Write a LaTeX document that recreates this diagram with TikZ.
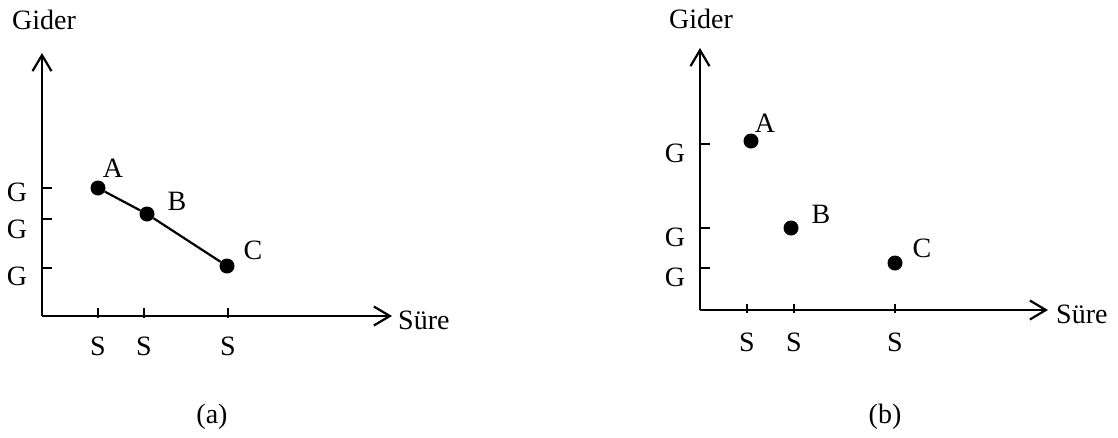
\documentclass[tikz,border=0pt]{standalone}
\usepackage{fontspec}
\setmainfont{Liberation Serif}
\usetikzlibrary{positioning,arrows.meta}

\begin{document}
\begin{tikzpicture}[x=1pt,y=1pt]
			\tikzstyle{every node}+=[inner sep=0pt,font=\fontsize{28}{32}\selectfont]
			\tikzstyle{axis}=[black,line width=2.2pt,-{Straight Barb[length=16pt,width=19pt,line width=2.2pt]}]
			\tikzstyle{tick}=[black,line width=2.2pt]
			\tikzstyle{dot}=[circle,fill=black,minimum size=15pt]
			\useasboundingbox (0,0) rectangle (1118,-437);
			% (a)
			\coordinate (oa) at (42,-316);
			\coordinate (ya) at (42,-53);
			\coordinate (xa) at (392,-316);
			\draw [axis] (oa) -- (ya);
			\draw [axis] (oa) -- (xa);
			\node [anchor=base west] (gidera) at (12,-29) {Gider};
			\node [anchor=base west] (surea) at (398,-329) {Süre};
			\foreach \y/\b/\n in {188/201/1,219/238/2,268/285/3} {
				\draw [tick] (42,-\y) -- (52,-\y);
				\node [anchor=base] (ga\n) at (17,-\b) {G};
			}
			\foreach \x/\n in {98/1,144/2,228/3} {
				\draw [tick] (\x,-308) -- (\x,-318);
				\node [anchor=base] (sa\n) at (\x,-355) {S};
			}
			\node [dot] (pa1) at (98,-188) {};
			\node [dot] (pa2) at (147,-214) {};
			\node [dot] (pa3) at (227,-266) {};
			\draw [black,line width=2.2pt] (pa1) -- (pa2) -- (pa3);
			\node [anchor=base] (la1) at (113,-177) {A};
			\node [anchor=base] (la2) at (177,-210) {B};
			\node [anchor=base] (la3) at (253,-259) {C};
			\node [anchor=base] (capa) at (212,-423) {(a)};
			% (b)
			\coordinate (ob) at (700,-310);
			\coordinate (yb) at (700,-48);
			\coordinate (xb) at (1048,-310);
			\draw [axis] (ob) -- (yb);
			\draw [axis] (ob) -- (xb);
			\node [anchor=base west] (giderb) at (669,-28) {Gider};
			\node [anchor=base west] (sureb) at (1056,-323) {Süre};
			\foreach \y/\b/\n in {144/162/1,228/246/2,268/286/3} {
				\draw [tick] (700,-\y) -- (710,-\y);
				\node [anchor=base] (gb\n) at (675,-\b) {G};
			}
			\foreach \x/\n in {747/1,794/2,895/3} {
				\draw [tick] (\x,-304) -- (\x,-313);
				\node [anchor=base] (sb\n) at (\x,-351) {S};
			}
			\node [dot] (pb1) at (751,-141) {};
			\node [dot] (pb2) at (791,-228) {};
			\node [dot] (pb3) at (895,-263) {};
			\node [anchor=base] (lb1) at (765,-132) {A};
			\node [anchor=base] (lb2) at (821,-223) {B};
			\node [anchor=base] (lb3) at (922,-257) {C};
			\node [anchor=base] (capb) at (885,-423) {(b)};
\end{tikzpicture}
\end{document}
